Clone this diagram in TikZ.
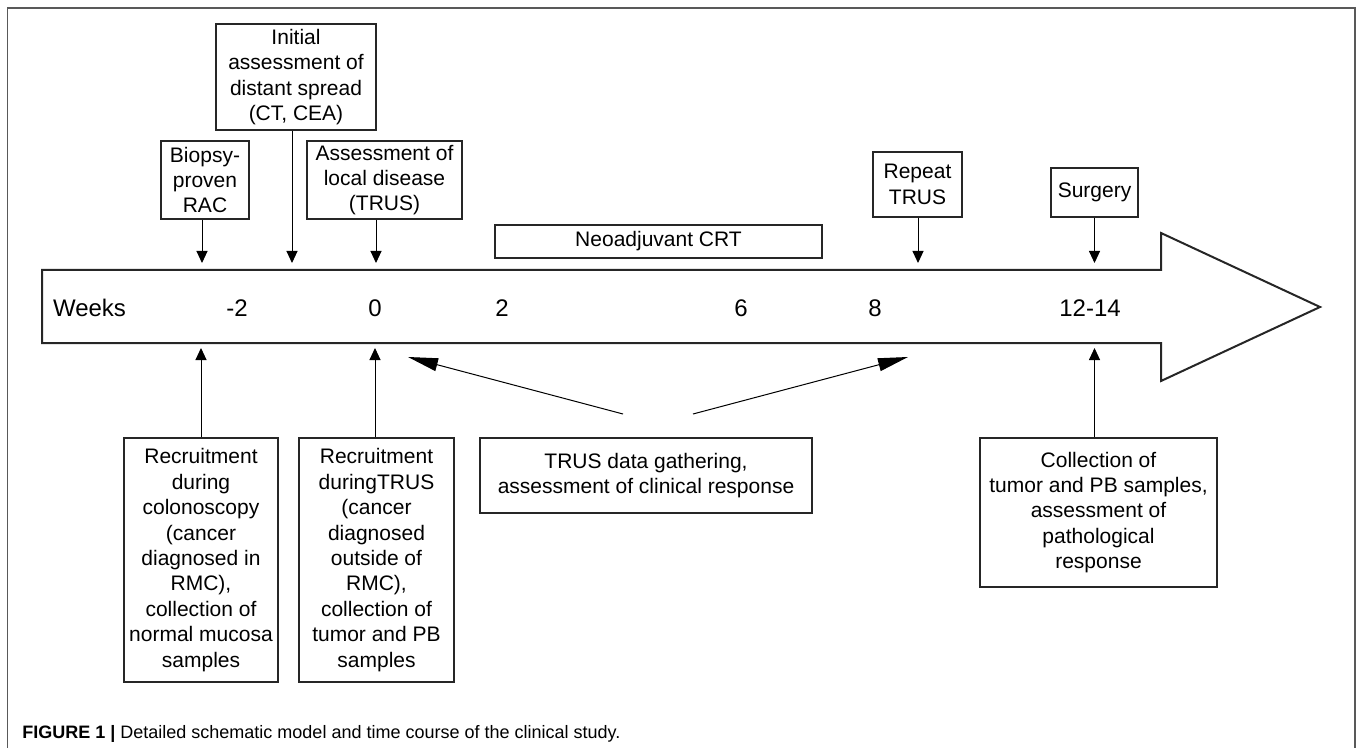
\documentclass[tikz,border=0pt]{standalone}
\usepackage{fontspec}
\setmainfont{Liberation Sans}
\usetikzlibrary{arrows.meta}

\begin{document}
\begin{tikzpicture}[x=0.5pt,y=-0.5pt,
    box/.style={draw=black!85,line width=1pt,inner sep=0pt,align=center,
      font=\fontsize{10.5}{12.7}\selectfont},
    tick/.style={font=\fontsize{12}{14}\selectfont},
    pointer/.style={-{Triangle[length=6pt,width=5.5pt]},line width=0.5pt},
    bigpointer/.style={-{Triangle[length=15pt,width=6.5pt]},line width=0.5pt}]
        \useasboundingbox (0,0) rectangle (1358,748);
        \draw[black!65,line width=0.75pt] (7.5,748) -- (7.5,8) -- (1355,8) -- (1355,748);

        % time line
        \draw[black!85,line width=1pt] (42,270) -- (1161,270) -- (1161,233) -- (1320,307)
            -- (1161,381) -- (1161,343) -- (42,343) -- cycle;
        \node [tick,anchor=west] (weeks) at (46,308) {Weeks};
        \node [tick] (wm2) at (237,308) {-2};
        \node [tick] (w0) at (375,308) {0};
        \node [tick] (w2) at (502,308) {2};
        \node [tick] (w6) at (741,308) {6};
        \node [tick] (w8) at (875,308) {8};
        \node [tick] (w12) at (1090,308) {12-14};

        % upper boxes
        \node [box,minimum width=44pt,minimum height=39pt] (biopsy) at (205,180) {Biopsy-\\proven\\RAC};
        \node [box,minimum width=80pt,minimum height=53pt] (initial) at (296,77) {Initial\\assessment of\\distant spread\\(CT, CEA)};
        \node [box,minimum width=77.5pt,minimum height=39pt] (local) at (384.5,180) {Assessment of\\local disease\\(TRUS)};
        \node [box,minimum width=163.5pt,minimum height=16.5pt] (neo) at (658.5,241.5) {Neoadjuvant CRT};
        \node [box,minimum width=44.5pt,minimum height=32.5pt] (repeat) at (917.5,184.5) {Repeat\\TRUS};
        \node [box,minimum width=43.5pt,minimum height=24.5pt] (surgery) at (1094.5,192.5) {Surgery};

        % lower boxes
        \node [box,minimum width=77pt,minimum height=122pt] (recA) at (201,560) {Recruitment\\during\\colonoscopy\\(cancer\\diagnosed in\\RMC),\\collection of\\normal mucosa\\samples};
        \node [box,minimum width=77.5pt,minimum height=122pt] (recB) at (376.5,560) {Recruitment\\duringTRUS\\(cancer\\diagnosed\\outside of\\RMC),\\collection of\\tumor and PB\\samples};
        \node [box,minimum width=166pt,minimum height=37.5pt] (trus) at (646,475.5) {TRUS data gathering,\\assessment of clinical response};
        \node [box,minimum width=118.5pt,minimum height=74.5pt] (coll) at (1098.5,512.5) {Collection of\\tumor and PB samples,\\assessment of\\pathological\\response};

        % arrow ends at the time line
        \coordinate (tBiopsy) at (202,263);
        \coordinate (tInitial) at (292,263);
        \coordinate (tLocal) at (376,263);
        \coordinate (tRepeat) at (918,263);
        \coordinate (tSurgery) at (1094.5,263);
        \coordinate (bRecA) at (201,348);
        \coordinate (bRecB) at (375,348);
        \coordinate (bColl) at (1094.5,348);
        \coordinate (bLeft) at (408,357);
        \coordinate (bRight) at (908,357);
        \coordinate (sLeft) at (623,414);
        \coordinate (sRight) at (693,414);

        \draw[pointer] (biopsy.south -| tBiopsy) to (tBiopsy);
        \draw[pointer] (initial.south -| tInitial) to (tInitial);
        \draw[pointer] (local.south -| tLocal) to (tLocal);
        \draw[pointer] (repeat.south -| tRepeat) to (tRepeat);
        \draw[pointer] (surgery.south -| tSurgery) to (tSurgery);
        \draw[pointer] (recA.north -| bRecA) to (bRecA);
        \draw[pointer] (recB.north -| bRecB) to (bRecB);
        \draw[pointer] (coll.north -| bColl) to (bColl);
        \draw[bigpointer] (sLeft) to (bLeft);
        \draw[bigpointer] (sRight) to (bRight);

        \node [anchor=base west,inner sep=0pt,font=\fontsize{9}{11}\selectfont] (caption) at (22,738)
            {\textbf{FIGURE 1 |} Detailed schematic model and time course of the clinical study.};
\end{tikzpicture}
\end{document}
